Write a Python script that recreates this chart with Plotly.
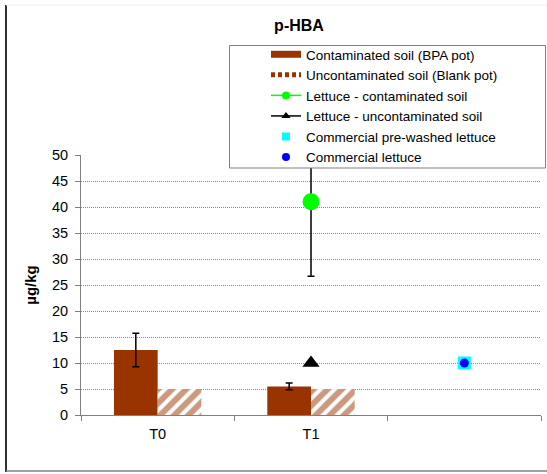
import plotly.graph_objects as go

categories = ["T0", "T1", " "]
contaminated_soil = [12.5, 5.5, None]
contaminated_soil_err = [3.2, 0.65, None]
blank_soil = [5.0, 5.0, None]
lettuce_contaminated = [None, 41.0, None]
lettuce_contaminated_err = [None, 14.3, None]
lettuce_uncontaminated = [None, 10.0, None]
commercial_prewashed = [None, None, 10.0]
commercial_lettuce = [None, None, 10.0]
y_ticks = [0, 5, 10, 15, 20, 25, 30, 35, 40, 45, 50]

FONT = "Liberation Sans, Arial, sans-serif"
BROWN = "#993300"

W, H = 547, 474
ML, MR, MT, MB = 81, 6, 155, 59
pw = W - ML - MR
ph = H - MT - MB

def px_x(p):
    return (p - ML) / pw

def px_y(p):
    return (H - MB - p) / ph

fig = go.Figure()
# data traces (legend shown through small proxy entries below)
fig.add_trace(go.Bar(
    x=categories, y=contaminated_soil, name="Contaminated soil (BPA pot)", showlegend=False,
    marker=dict(color=BROWN, line=dict(width=0)),
    error_y=dict(type="data", array=contaminated_soil_err, color="black", thickness=1.5, width=3.5),
))
fig.add_trace(go.Bar(
    x=categories, y=blank_soil, name="Uncontaminated soil (Blank pot)", showlegend=False,
    marker=dict(color="white", line=dict(width=0),
                pattern=dict(shape="/", fgcolor=BROWN, bgcolor="white", size=10, solidity=0.6)),
))
fig.add_trace(go.Scatter(
    x=categories, y=lettuce_contaminated, name="Lettuce - contaminated soil", showlegend=False,
    mode="markers", marker=dict(symbol="circle", size=17, color="#00FF00"),
    error_y=dict(type="data", array=lettuce_contaminated_err, color="black", thickness=1.5, width=3.5),
))
fig.add_trace(go.Scatter(
    x=categories, y=lettuce_uncontaminated, name="Lettuce - uncontaminated soil", showlegend=False,
    mode="markers", marker=dict(symbol="triangle-up", size=15, color="black"),
))
fig.add_trace(go.Scatter(
    x=categories, y=commercial_prewashed, name="Commercial pre-washed lettuce", showlegend=False,
    mode="markers", marker=dict(symbol="square", size=13, color="#00FFFF"),
))
fig.add_trace(go.Scatter(
    x=categories, y=commercial_lettuce, name="Commercial lettuce", showlegend=False,
    mode="markers", marker=dict(symbol="circle", size=9, color="#0000FF"),
))

# legend entries (no data of their own)
empty = [None]
fig.add_trace(go.Scatter(x=empty, y=empty, name="Contaminated soil (BPA pot)", mode="lines",
                         line=dict(color=BROWN, width=7)))
fig.add_trace(go.Scatter(x=empty, y=empty, name="Uncontaminated soil (Blank pot)", mode="lines",
                         line=dict(color=BROWN, width=5, dash="4px,3px")))
fig.add_trace(go.Scatter(x=empty, y=empty, name="Lettuce - contaminated soil", mode="lines+markers",
                         line=dict(color="#00FF00", width=1.5),
                         marker=dict(symbol="circle", size=8, color="#00FF00")))
fig.add_trace(go.Scatter(x=empty, y=empty, name="Lettuce - uncontaminated soil", mode="lines+markers",
                         line=dict(color="black", width=1.5),
                         marker=dict(symbol="triangle-up", size=8, color="black")))
fig.add_trace(go.Scatter(x=empty, y=empty, name="Commercial pre-washed lettuce", mode="markers",
                         marker=dict(symbol="square", size=8, color="#00FFFF")))
fig.add_trace(go.Scatter(x=empty, y=empty, name="Commercial lettuce", mode="markers",
                         marker=dict(symbol="circle", size=8, color="#0000FF")))

shapes = [
    dict(type="line", xref="paper", yref="paper", x0=px_x(6), x1=px_x(6), y0=px_y(5), y1=px_y(472),
         line=dict(color="#303030", width=2)),
    dict(type="line", xref="paper", yref="paper", x0=px_x(6), x1=px_x(560), y0=px_y(471), y1=px_y(471),
         line=dict(color="#808080", width=1.5)),
    dict(type="line", xref="paper", yref="paper", x0=px_x(6), x1=px_x(560), y0=px_y(5), y1=px_y(5),
         line=dict(color="#eeeeee", width=1)),
    # legend frame
    dict(type="rect", xref="paper", yref="paper", layer="above",
         x0=px_x(229.5), x1=px_x(545.5), y0=px_y(168), y1=px_y(45.5),
         fillcolor="white", line=dict(color="#808080", width=1)),
]

fig.update_layout(
    width=W, height=H,
    margin=dict(l=ML, r=MR, t=MT, b=MB, pad=0),
    paper_bgcolor="white", plot_bgcolor="white",
    font=dict(family=FONT, color="black", size=14),
    barmode="group", bargap=0.43, bargroupgap=0,
    title=dict(text="<b>p-HBA</b>", x=299 / W, xanchor="center", y=1 - 25 / H, yanchor="middle",
               font=dict(size=16, family=FONT)),
    legend=dict(x=px_x(266), y=px_y(39), xanchor="left", yanchor="top",
                bgcolor="rgba(0,0,0,0)", borderwidth=0,
                font=dict(size=13.5, family=FONT), itemwidth=30, tracegroupgap=0),
    shapes=shapes,
    xaxis=dict(type="category", categoryorder="array", categoryarray=categories,
               range=[-0.5, 2.5],
               showline=True, linecolor="#808080", linewidth=1,
               ticks="outside", tickson="boundaries", ticklen=5, tickcolor="#808080",
               showgrid=False, tickfont=dict(size=14.5), ticklabelstandoff=6),
    yaxis=dict(range=[0, 50], tickvals=y_ticks, showline=True, linecolor="#808080", linewidth=1,
               ticks="outside", ticklen=5, tickcolor="#808080",
               showgrid=True, gridcolor="#8a8a8a", griddash="1px,1px", gridwidth=1,
               zeroline=False, tickfont=dict(size=14.5), ticklabelstandoff=4,
               title=dict(text="<b>µg/kg</b>", font=dict(size=15), standoff=11)),
)

fig.write_html("out.html")
